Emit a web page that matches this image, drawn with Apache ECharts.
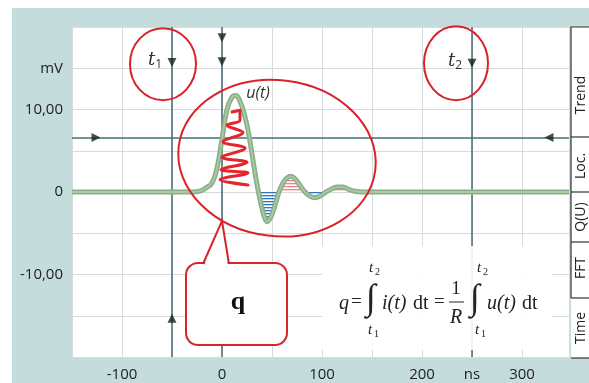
<!DOCTYPE html>
<html><head><meta charset="utf-8">
<script src="https://cdn.jsdelivr.net/npm/echarts@6/dist/echarts.min.js"></script>
<style>html,body{margin:0;padding:0;background:#fff}#c{width:589px;height:383px}</style>
</head><body><div id="c"></div>
<script>
// ---- data ----
const xTickLabels = {'-100':'-100','0':'0','100':'100','200':'200','250':'ns','300':'300'};
const yTickLabels = {'15':'mV','10':'10,00','0':'0','-10':'-10,00'};
const tValues = [-150,-30,-22,-16,-10,-5,0,5,10,14,18,22,26,30,34,38,42,45,49,53,57,61,65,69,73,78,83,88,93,98,104,110,116,121,127,133,140,150,347];
const uValues = [0,0,0.1,0.5,1.1,2.9,6.4,10.0,11.5,11.7,11.0,9.6,7.5,4.6,1.6,-0.9,-2.9,-3.6,-3.0,-1.6,0.0,1.1,1.7,1.9,1.6,0.8,0.0,-0.5,-0.7,-0.5,0.0,0.4,0.6,0.6,0.3,0.1,0,0,0];
const iZigT = [10,18,18,5,21,1,23,0,25,-1,26,-2,26];
const iZigV = [9.7,9.9,8.7,8.1,7.2,6.1,5.3,4.2,3.6,2.7,2.3,1.5,0.85];
const blueLobes = [[34,57],[83,104]];
const pinkLobes = [[57,83],[104,140]];
const cursorX = [-50, 0, 250];
const cursorY = [6.6];
const arrowT = [-50, 0, 0, 250, -50, -126, 327];
const arrowV = [15.7, 18.7, 15.8, 15.6, -15.3, 6.6, 6.6];
const arrowRot = [180, 180, 180, 180, 0, -90, 90];
const tabs = ['Trend','Loc.','Q(U)','FFT','Time'];

// ---- patterns ----
function hatch(color){
  const c = document.createElement('canvas'); c.width = 4; c.height = 3;
  const g = c.getContext('2d'); g.fillStyle = color; g.fillRect(0,0,4,1.3);
  return {image:c, repeat:'repeat'};
}
function lobeData(ranges, sign){
  const out = [];
  ranges.forEach(r=>{
    tValues.forEach((t,i)=>{ if(t>=r[0] && t<=r[1]){ const v = uValues[i]; out.push([t, sign<0?Math.min(v,0):Math.max(v,0)]); } });
    out.push([r[1], null]);
  });
  return out;
}
const uData = tValues.map((t,i)=>[t,uValues[i]]);
const zigData = iZigT.map((t,i)=>[t,iZigV[i]]);
const arrowData = arrowT.map((t,i)=>({value:[t,arrowV[i]], symbolRotate:arrowRot[i]}));

const chart = echarts.init(document.getElementById('c'));
const option = {
  backgroundColor:'#c5dcdc',
  animation:false,
  grid:{left:72, right:20, top:27, bottom:26, show:true, backgroundColor:'#ffffff', borderWidth:0},
  xAxis:{type:'value', min:-150, max:347, interval:50,
    axisLine:{show:false}, axisTick:{show:false},
    splitLine:{show:true, lineStyle:{color:'#d6dcdc', width:1}},
    axisLabel:{showMaxLabel:false, showMinLabel:true, margin:10, color:'#222', fontSize:15, fontFamily:'Open Sans',
      formatter:v=>xTickLabels[String(v)]||''}},
  yAxis:{type:'value', min:-20, max:20, interval:5,
    axisLine:{show:false}, axisTick:{show:false},
    splitLine:{show:true, lineStyle:{color:'#d6dcdc', width:1}},
    axisLabel:{margin:9, color:'#222', fontSize:15, fontFamily:'Open Sans',
      formatter:v=>yTickLabels[String(v)]||''}},
  series:[
    {type:'line', data:[], silent:true, z:3,
      markLine:{silent:true, symbol:'none', label:{show:false},
        lineStyle:{color:'#4a6670', width:1.5, type:'solid'},
        data:[...cursorX.map(x=>({xAxis:x})), ...cursorY.map(y=>({yAxis:y, lineStyle:{color:'#3f7078', width:1.5, type:'solid'}}))]}},
    {type:'line', data:lobeData(blueLobes,-1), smooth:0.4, symbol:'none', z:4, connectNulls:false,
      lineStyle:{width:0}, areaStyle:{color:hatch('#2e76c2'), opacity:1}},
    {type:'line', data:lobeData(pinkLobes,1), smooth:0.4, symbol:'none', z:4, connectNulls:false,
      lineStyle:{width:0}, areaStyle:{color:hatch('#ec7f8a'), opacity:1}},
    {type:'line', data:uData, smooth:0.4, symbol:'none', z:5,
      lineStyle:{color:'#8aae87', width:5}},
    {type:'line', data:uData, smooth:0.4, symbol:'none', z:6,
      lineStyle:{color:'#a9c9a5', width:1.8}},
    {type:'line', data:zigData, symbol:'none', z:7, smooth:0.35,
      lineStyle:{color:'#e3262b', width:3, join:'round', cap:'round'}},
    {type:'scatter', data:arrowData, symbol:'triangle', symbolSize:[9,9], z:8,
      itemStyle:{color:'#1e1e1e'}}
  ]
};
chart.setOption(option);

const P = (t,v)=>chart.convertToPixel({gridIndex:0},[t,v]);
const red = '#d8232a';
const g = [];
// white strips of the frame
g.push({type:'rect', shape:{x:0,y:0,width:589,height:8}, style:{fill:'#fff'}, z:0});
g.push({type:'rect', shape:{x:0,y:0,width:12,height:383}, style:{fill:'#fff'}, z:0});
// side tabs
const sbX = 571, sbTop = 27, seps = [137,192,242,298], sbBot = 358;
g.push({type:'rect', shape:{x:sbX,y:sbTop,width:589-sbX,height:sbBot-sbTop}, style:{fill:'#fff'}, z:20});
g.push({type:'polyline', shape:{points:[[589,sbTop],[sbX,sbTop],[sbX,seps[3]]]}, style:{stroke:'#333',lineWidth:1.2,fill:null}, z:21});
seps.forEach(s=>g.push({type:'line', shape:{x1:sbX,y1:s,x2:589,y2:s}, style:{stroke:'#333',lineWidth:1.2}, z:21}));
g.push({type:'line', shape:{x1:sbX,y1:sbBot,x2:589,y2:sbBot}, style:{stroke:'#333',lineWidth:1.2}, z:21});
const tabY = [95,166,217,268,328];
tabs.forEach((t,i)=>g.push({type:'text', x:581, y:tabY[i], rotation:Math.PI/2,
  style:{text:t, fill:'#222', font:'14px "Open Sans"', align:'center', verticalAlign:'middle', textAlign:'center', textVerticalAlign:'middle'}, z:22}));
// cursor labels t1, t2
const c1 = P(-50,15.7), c2 = P(250,15.6);
[[c1,'1'],[c2,'2']].forEach(([p,s])=>g.push({type:'text', x:p[0]-10, y:p[1]-2,
  style:{text:'{a|t}{b|'+s+'}', align:'right', verticalAlign:'middle', textAlign:'right', textVerticalAlign:'middle',
    rich:{a:{fontSize:18, fontStyle:'italic', fontFamily:'DejaVu Serif', fill:'#333', color:'#333'},
          b:{fontSize:12, fontFamily:'Open Sans', color:'#333', fill:'#333', padding:[8,0,0,0]}}}, z:30}));
// u(t) label
const ul = P(36,12.0);
g.push({type:'text', x:ul[0], y:ul[1], style:{text:'u(t)', fill:'#333', font:'italic 16px "Open Sans"', align:'center', verticalAlign:'middle', textAlign:'center', textVerticalAlign:'middle'}, z:30});
// red ellipses
const e1 = P(-59,15.5), e2 = P(234,15.6), e3 = P(55,4.1);
g.push({type:'ellipse', x:e1[0], y:e1[1], shape:{cx:0,cy:0,rx:33,ry:36}, style:{fill:null, stroke:red, lineWidth:2}, z:40});
g.push({type:'ellipse', x:e2[0], y:e2[1], shape:{cx:0,cy:0,rx:32,ry:37}, style:{fill:null, stroke:red, lineWidth:2}, z:40});
g.push({type:'ellipse', x:e3[0], y:e3[1], rotation:-0.12, shape:{cx:0,cy:0,rx:99,ry:78}, style:{fill:null, stroke:red, lineWidth:2}, z:40});
// callout q
const tip = P(0,-3.5);
g.push({type:'rect', shape:{x:186,y:263,width:101,height:82,r:12}, style:{fill:'#fff', stroke:red, lineWidth:2}, z:41});
g.push({type:'polygon', shape:{points:[[204,266],tip,[228,266]]}, style:{fill:'#fff'}, z:42});
g.push({type:'polyline', shape:{points:[[203,264],tip,[229,264]]}, style:{stroke:red, lineWidth:2, fill:null}, z:43});
g.push({type:'text', x:238, y:302, style:{text:'q', fill:'#111', font:'bold 26px "Liberation Serif"', align:'center', verticalAlign:'middle', textAlign:'center', textVerticalAlign:'middle'}, z:44});
// formula
g.push({type:'rect', shape:{x:322,y:246,width:230,height:104}, style:{fill:'#fff', opacity:0.9}, z:45});
const fs = (txt,x,y,font,al)=>g.push({type:'text', x, y, style:{text:txt, fill:'#222', font, align:al||'left', verticalAlign:'middle', textAlign:al||'left', textVerticalAlign:'middle'}, z:46});
const serif = '"Liberation Serif"';
fs('q',339,304,'italic 20px '+serif);
fs('=',351,302,'19px '+serif);
fs('\u222B',371,300,'36px '+serif,'center');
fs('t',371,268,'italic 15px '+serif,'center'); fs('2',375,272,'10px '+serif);
fs('t',370,330,'italic 15px '+serif,'center'); fs('1',374,334,'10px '+serif);
fs('i(t)',382,304,'italic 20px '+serif);
fs('dt',413,304,'20px '+serif);
fs('=',434,302,'19px '+serif);
fs('1',456,289,'19px '+serif,'center');
g.push({type:'line', shape:{x1:449,y1:302,x2:464,y2:302}, style:{stroke:'#222',lineWidth:1}, z:46});
fs('R',456,318,'italic 20px '+serif,'center');
fs('\u222B',475,300,'36px '+serif,'center');
fs('t',479,268,'italic 15px '+serif,'center'); fs('2',483,272,'10px '+serif);
fs('t',477,330,'italic 15px '+serif,'center'); fs('1',481,334,'10px '+serif);
fs('u(t)',487,304,'italic 20px '+serif);
fs('dt',522,304,'20px '+serif);
chart.setOption({graphic:{elements:g}});
</script></body></html>
